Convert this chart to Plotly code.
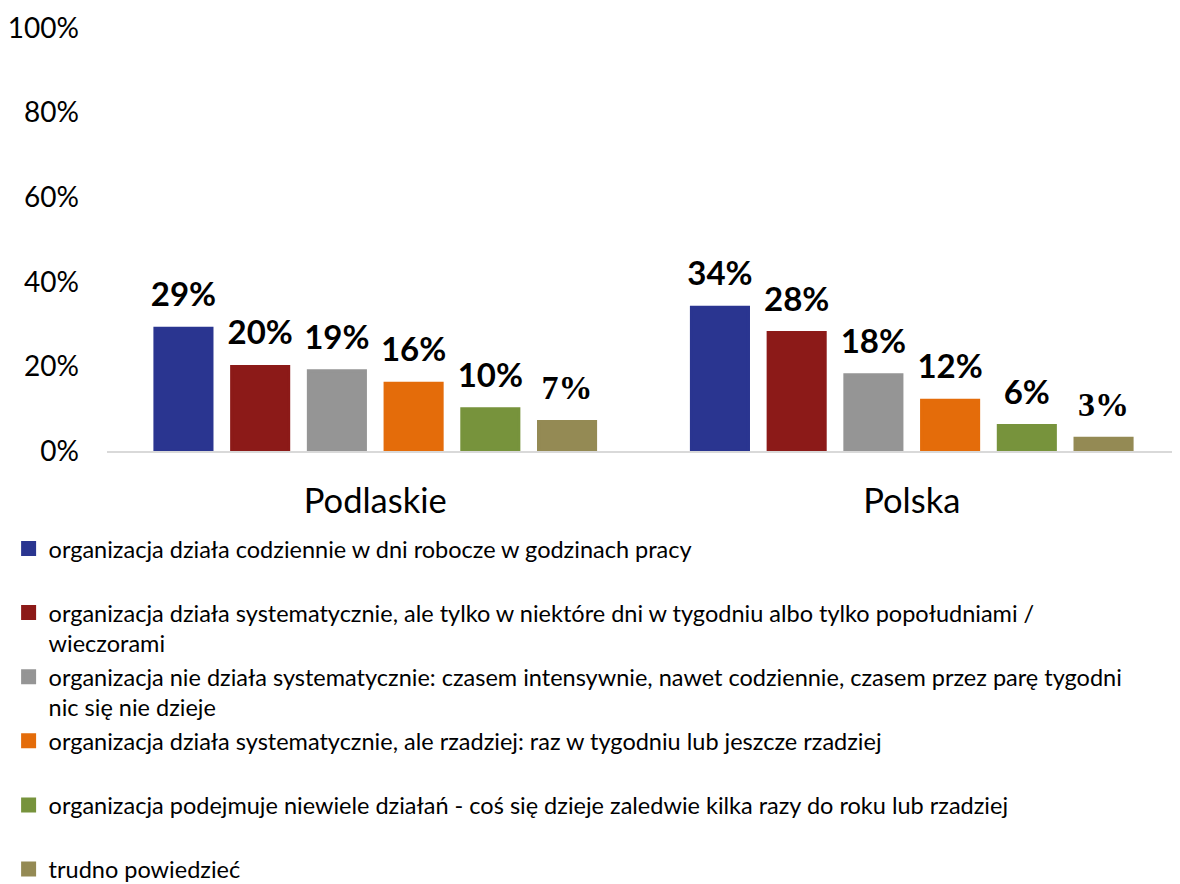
import plotly.graph_objects as go

categories = ["Podlaskie", "Polska"]
series_names = [
    "organizacja działa codziennie w dni robocze w godzinach pracy<br> ",
    "organizacja działa systematycznie, ale tylko w niektóre dni w tygodniu albo tylko popołudniami /<br>wieczorami",
    "organizacja nie działa systematycznie: czasem intensywnie, nawet codziennie, czasem przez parę tygodni<br>nic się nie dzieje",
    "organizacja działa systematycznie, ale rzadziej: raz w tygodniu lub jeszcze rzadziej<br> ",
    "organizacja podejmuje niewiele działań - coś się dzieje zaledwie kilka razy do roku lub rzadziej<br> ",
    "trudno powiedzieć",
]
s1 = [29, 34]
s2 = [20, 28]
s3 = [19, 18]
s4 = [16, 12]
s5 = [10, 6]
s6 = [7, 3]
series_values = [s1, s2, s3, s4, s5, s6]
colors = ["#2A3590", "#8C1A18", "#959595", "#E46C0A", "#77933C", "#948A54"]
y_ticks = [0, 20, 40, 60, 80, 100]

GAP = 0.142

fig = go.Figure()
for i, (name, vals, col) in enumerate(zip(series_names, series_values, colors)):
    fig.add_trace(go.Bar(
        x=categories, y=vals, name=name,
        marker=dict(color=col, line=dict(width=3, color=col)),
        offsetgroup=f"g{i}",
        hoverinfo="skip",
    ))

# data labels (grouped scatter text aligned with the bar slots)
for i, vals in enumerate(series_values):
    last = i == len(series_values) - 1
    fig.add_trace(go.Scatter(
        x=categories, y=vals, mode="markers+text",
        text=[f"{v}%" for v in vals], textposition="top center",
        marker=dict(size=20.4, color="rgba(0,0,0,0)"),
        offsetgroup=f"g{i}",
        showlegend=False, hoverinfo="skip", cliponaxis=False,
        textfont=dict(
            family="Liberation Serif" if last else "Lato",
            size=34 if last else 33,
            color="#000000",
            weight="bold",
        ),
    ))

fig.update_layout(
    width=1172, height=876,
    margin=dict(l=99, r=0, t=20, b=433, autoexpand=False),
    paper_bgcolor="white", plot_bgcolor="white",
    barmode="group", bargap=GAP, bargroupgap=0.256,
    scattermode="group", scattergap=GAP,
    font=dict(family="Lato", color="#000000"),
    showlegend=True,
    legend=dict(
        orientation="v", x=-0.0917, xanchor="left", y=-0.179, yanchor="top",
        font=dict(family="Lato", size=23.5, color="#000000"),
        valign="top", traceorder="normal", itemwidth=30,
        bgcolor="rgba(0,0,0,0)",
    ),
)
fig.update_yaxes(
    range=[0, 100], tickvals=y_ticks, ticktext=[f"{t}%" for t in y_ticks],
    showgrid=False, zeroline=False, showline=False,
    tickfont=dict(family="Lato", size=28, color="#000000"),
    ticklabelstandoff=27,
)
fig.update_xaxes(
    showline=True, linecolor="#D9D9D9", linewidth=2,
    showgrid=False, ticks="",
    tickfont=dict(family="Lato", size=34.5, color="#000000"),
    ticklabelstandoff=19,
)

fig.write_html("out.html")
